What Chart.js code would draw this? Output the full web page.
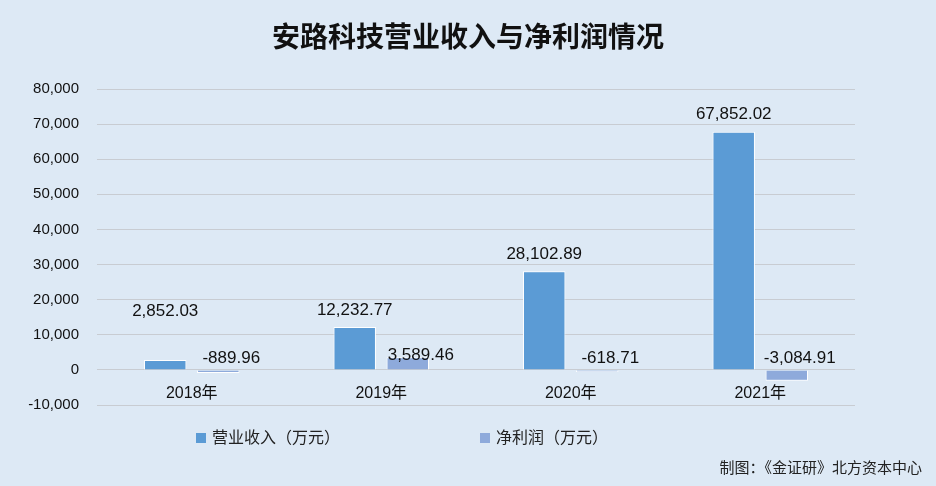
<!DOCTYPE html>
<html><head><meta charset="utf-8">
<script src="https://cdn.jsdelivr.net/npm/chart.js@4/dist/chart.umd.min.js"></script>
<style>
body{margin:0;background:#dde9f5;}
#wrap{position:relative;width:936px;height:486px;background:#dde9f5;font-family:"Liberation Sans","Noto Sans CJK SC",sans-serif;}
#title{position:absolute;left:0;width:936px;top:15px;text-align:center;font-size:28px;font-weight:bold;color:#111;font-family:"Noto Sans CJK SC",sans-serif;}
#legend{position:absolute;top:424px;left:196px;font-size:16px;color:#222;font-family:"Noto Sans CJK SC",sans-serif;}
#legend span.sq{display:inline-block;width:10px;height:10px;margin-right:6px;}
#foot{position:absolute;right:14px;top:456px;font-size:15px;color:#222;font-family:"Noto Sans CJK SC",sans-serif;}
canvas{position:absolute;left:0;top:0;}
</style></head><body>
<div id="wrap">
<canvas id="c" width="936" height="486"></canvas>
<div id="title">安路科技营业收入与净利润情况</div>
<div id="legend"><span class="sq" style="background:#5b9bd5"></span>营业收入（万元）<span style="display:inline-block;width:140px"></span><span class="sq" style="background:#8eaadb"></span>净利润（万元）</div>
<div id="foot">制图：《金证研》北方资本中心</div>
</div>
<script>
const categories=["2018年","2019年","2020年","2021年"];
const revenue=[2852.03,12232.77,28102.89,67852.02];
const profit=[-889.96,3589.46,-618.71,-3084.91];
const seriesNames=["营业收入（万元）","净利润（万元）"];
const fmt=v=>v.toLocaleString('en-US',{minimumFractionDigits:2,maximumFractionDigits:2});
const labelPlugin={id:'lbl',afterDatasetsDraw(ch){
 const ctx=ch.ctx,y=ch.scales.y,x=ch.scales.x,zero=y.getPixelForValue(0);
 ctx.save();ctx.font='17px "Liberation Sans", sans-serif';ctx.fillStyle='#111';ctx.textAlign='center';ctx.textBaseline='middle';
 ch.data.datasets.forEach((ds,i)=>{ch.getDatasetMeta(i).data.forEach((b,j)=>{
   let ty,tx=b.x;
   if(ds.data[j]>=0){ty=b.y-17;}else{ty=zero-12;}
   if(i===1) tx+=13;
   if(i===0&&j===0) ty=Math.min(ty,zero-59);
   if(i===1&&ds.data[j]>=0) ty=b.y-2;
   ctx.fillText(fmt(ds.data[j]),tx,ty);});});
 ctx.font='16px "Liberation Sans","Noto Sans CJK SC", sans-serif';
 categories.forEach((c,j)=>ctx.fillText(c,x.getPixelForValue(j),zero+24));
 ctx.restore();}};
new Chart(document.getElementById('c'),{type:'bar',
 data:{labels:categories,datasets:[
  {label:seriesNames[0],data:revenue,backgroundColor:'#5b9bd5',borderColor:'#ffffff',borderWidth:1,categoryPercentage:0.56,barPercentage:0.8},
  {label:seriesNames[1],data:profit,backgroundColor:'#8eaadb',borderColor:'#ffffff',borderWidth:1,categoryPercentage:0.56,barPercentage:0.8}]},
 options:{responsive:false,animation:false,
  layout:{padding:{top:89,bottom:81,right:81,left:0}},
  plugins:{legend:{display:false},tooltip:{enabled:false}},
  scales:{
   x:{display:false},
   y:{min:-10000,max:80000,ticks:{stepSize:10000,color:'#111',font:{size:15,family:'"Liberation Sans", sans-serif'},padding:18,callback:v=>v.toLocaleString('en-US')},
      grid:{color:'#c8ccd2',drawTicks:false},border:{display:false},
      afterFit:s=>{s.width=97;}}}},
 plugins:[labelPlugin]});
</script>
</body></html>
